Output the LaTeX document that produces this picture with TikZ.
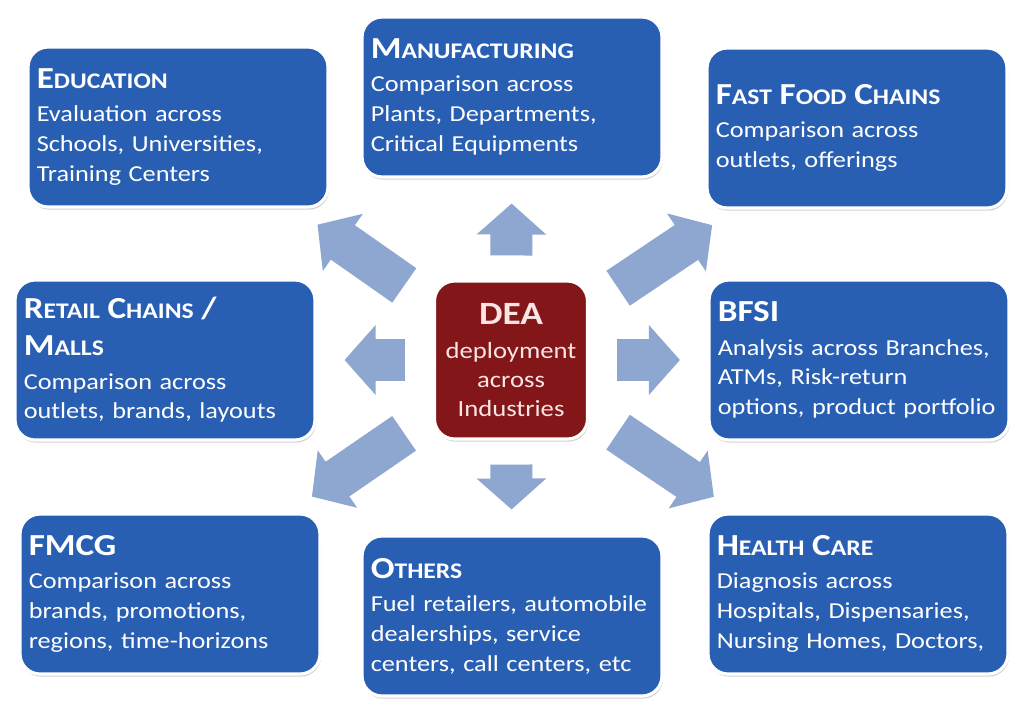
\documentclass[tikz,border=0pt]{standalone}
\usepackage{fontspec}
\setmainfont{Carlito}[FakeStretch=1.15]
\usepackage{tikz}
\usetikzlibrary{arrows.meta, shadows}
\definecolor{boxblue}{RGB}{41,95,178}
\definecolor{deared}{RGB}{130,22,24}
\definecolor{deatext}{RGB}{250,228,228}
\definecolor{arrowblue}{RGB}{142,167,208}
\newcommand{\ttl}[1]{{\fontsize{17.4}{17}\selectfont\bfseries #1}}
\newcommand{\lo}[1]{{\fontsize{12.7}{14}\selectfont #1}}

\begin{document}
\begin{tikzpicture}[x=0.02cm, y=-0.02cm,
  sector/.style={rounded corners=0.4cm, fill=boxblue, draw=white, line width=1.8pt,
    text=white, text width=5.65cm, minimum height=3.2cm, inner xsep=0.175cm,
    inner ysep=0.2cm, align=left, font=\fontsize{13}{17}\selectfont,
    drop shadow={opacity=0.35, shadow xshift=0.6pt, shadow yshift=-1.5pt}},
  hub/.style={rounded corners=0.4cm, fill=deared, draw=white, line width=1.8pt,
    text=deatext, minimum width=3.06cm, minimum height=3.16cm, align=center,
    font=\fontsize{13.2}{16.4}\selectfont,
    drop shadow={opacity=0.35, shadow xshift=0.6pt, shadow yshift=-1.5pt}},
  flow/.style={arrowblue, line width=0.84cm, -{Triangle[length=0.62cm, width=1.36cm]},
    shorten <=0.48cm, shorten >=0.5cm},
  diag/.style={flow, shorten <=0.7cm, shorten >=0.56cm}]
  \fill[white, use as bounding box] (0,0) rectangle (1024,711);

  \node[hub] (dea) at (511,360) {{\fontsize{18.5}{18}\selectfont\bfseries DEA}\\[3pt]
    deployment\\ across\\ Industries};

  \node[sector] (edu) at (178,127) {\ttl{E\lo{DUCATION}}\\[2pt]
    Evaluation across\\ Schools, Universities,\\ Training Centers};
  \node[sector] (manu) at (512,97) {\ttl{M\lo{ANUFACTURING}}\\[2pt]
    Comparison across\\ Plants, Departments,\\ Critical Equipments};
  \node[sector] (fast) at (857,128) {\ttl{F\lo{AST} F\lo{OOD} C\lo{HAINS}}\\[2pt]
    Comparison across\\ outlets, offerings};
  \node[sector] (retail) at (165,360) {\ttl{R\lo{ETAIL} C\lo{HAINS} /}\\[4pt]
    \ttl{M\lo{ALLS}}\\[2pt] Comparison across\\ outlets, brands, layouts};
  \node[sector] (bfsi) at (859,360) {\ttl{BFSI}\\[2pt]
    Analysis across Branches,\\ ATMs, Risk-return\\ options, product portfolio};
  \node[sector] (fmcg) at (170,594) {\ttl{FMCG}\\[2pt]
    Comparison across\\ brands, promotions,\\ regions, time-horizons};
  \node[sector] (others) at (512,616) {\ttl{O\lo{THERS}}\\[2pt]
    Fuel retailers, automobile\\ dealerships, service\\ centers, call centers, etc};
  \node[sector] (health) at (858,594) {\ttl{H\lo{EALTH} C\lo{ARE}}\\[2pt]
    Diagnosis across\\ Hospitals, Dispensaries,\\ Nursing Homes, Doctors,};

  \draw[flow] (dea) -- (manu);
  \draw[flow] (dea) -- (others);
  \draw[flow, shorten <=0.55cm, shorten >=0.56cm] (dea) -- (retail);
  \draw[flow, shorten <=0.56cm, shorten >=0.55cm] (dea) -- (bfsi);
  \draw[diag] (dea) -- (edu);
  \draw[diag] (dea) -- (fast);
  \draw[diag] (dea) -- (fmcg);
  \draw[diag] (dea) -- (health);
\end{tikzpicture}
\end{document}
